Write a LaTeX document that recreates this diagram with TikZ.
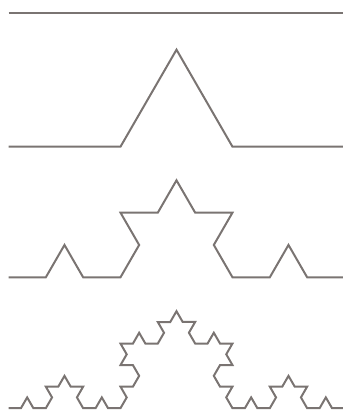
\documentclass[tikz,border=0pt]{standalone}
\usetikzlibrary{decorations.fractals}
\definecolor{kochgray}{RGB}{122,116,114}
\begin{document}
\begin{tikzpicture}[x=1pt,y=1pt,
  kochline/.style={draw=kochgray,line width=2pt,line join=miter,line cap=butt},
  decoration=Koch snowflake]
\useasboundingbox (0,0) rectangle (343,410);
\clip (0,0) rectangle (343,410);
\coordinate (a0) at (8.5,396.5);
\coordinate (b0) at (344.5,396.5);
\coordinate (a1) at (8.5,263.3);
\coordinate (b1) at (344.5,263.3);
\coordinate (a2) at (8.5,132.7);
\coordinate (b2) at (344.5,132.7);
\coordinate (a3) at (8.5,1.8);
\coordinate (b3) at (344.5,1.8);
\path[kochline] (a0) -- (b0);
\path[kochline] decorate{ (a1) -- (b1) };
\path[kochline] decorate{ decorate{ (a2) -- (b2) }};
\path[kochline] decorate{ decorate{ decorate{ (a3) -- (b3) }}};
\end{tikzpicture}
\end{document}
